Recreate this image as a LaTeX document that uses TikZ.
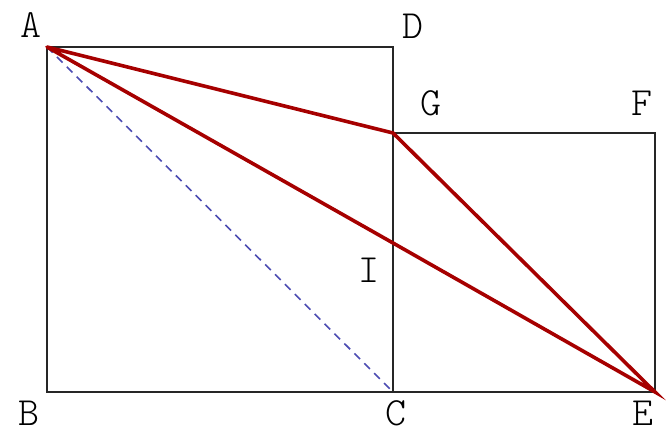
\documentclass[tikz,border=0pt]{standalone}
\tikzset{
  point label/.style={
    font=\ttfamily\fontseries{l}\fontsize{40}{40}\selectfont,
    inner sep=0pt,
  },
  side/.style={
    line width=2pt,
    black!85,
  },
  red line/.style={
    line width=3.6pt,
    draw=red!65!black,
    line cap=round,
  },
}
\begin{document}
\begin{tikzpicture}[x=1pt, y=-1pt]
      \useasboundingbox (0,0) rectangle (667,435);
      \coordinate (A) at (47,47);
      \coordinate (B) at (47,392);
      \coordinate (C) at (393,392);
      \coordinate (D) at (393,47);
      \coordinate (G) at (393,133);
      \coordinate (F) at (655,133);
      \coordinate (E) at (655,392);
      \coordinate (I) at (393,243);

      \node[point label] (lA) at (31,25) {A};
      \node[point label] (lD) at (413,26) {D};
      \node[point label] (lG) at (431,103) {G};
      \node[point label] (lF) at (642,103) {F};
      \node[point label] (lI) at (369,270) {I};
      \node[point label] (lB) at (29,413) {B};
      \node[point label] (lC) at (396,413) {C};
      \node[point label] (lE) at (643,413) {E};

      \draw[side] (A) -- (D) -- (C) -- (B) -- cycle;
      \draw[side] (G) -- (F) -- (E) -- (C);
      \draw[line width=1.6pt, blue!40!gray, dash pattern=on 8pt off 6pt] (A) -- (C);
      \draw[red line] (A) -- (G) -- (E) -- (I) -- (A);
    \end{tikzpicture}
\end{document}
